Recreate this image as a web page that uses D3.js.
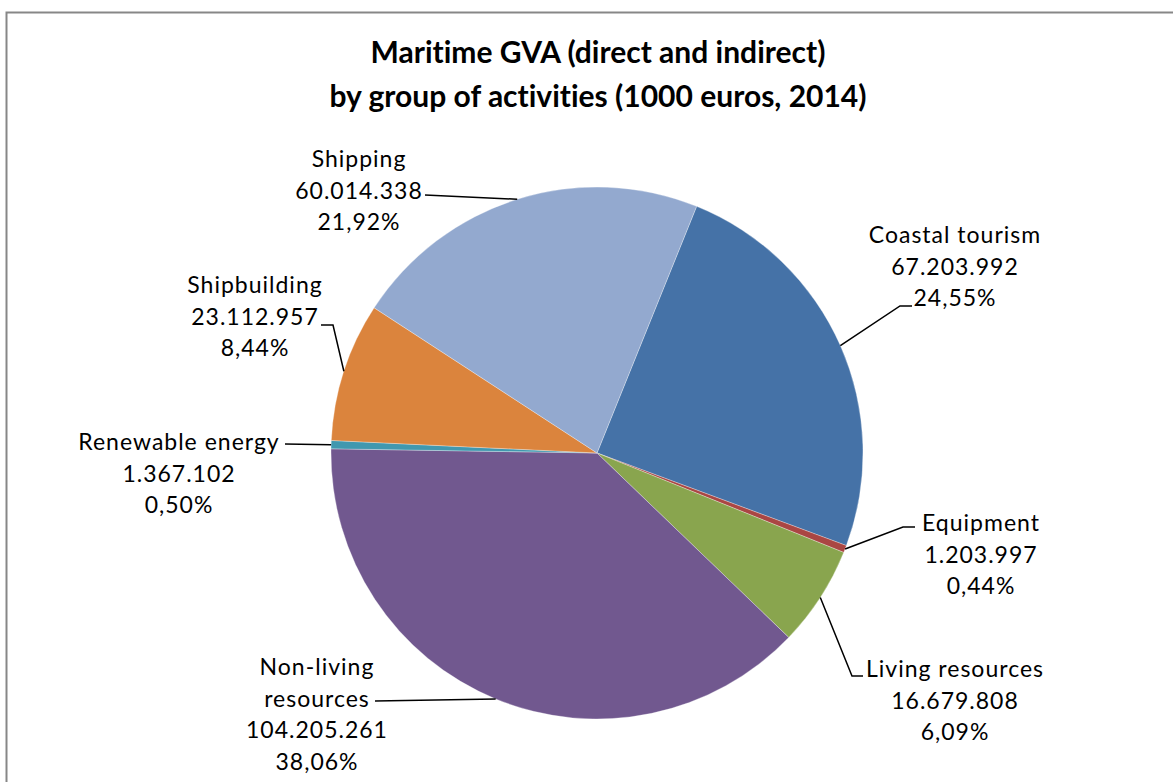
<!DOCTYPE html>
<html>
<head>
<meta charset="utf-8">
<script src="https://cdn.jsdelivr.net/npm/d3@7"></script>
<style>
  html, body { margin: 0; padding: 0; background: #fff; }
  svg { display: block; }
  text { font-family: Lato, "Open Sans", "Liberation Sans", sans-serif; fill: #000; font-variant-ligatures: none; }
</style>
</head>
<body>
<svg id="chart" width="1173" height="782"></svg>
<script>
// Maritime GVA by group of activities, thousand euros, 2014
const categories = [
  "Coastal tourism",
  "Equipment",
  "Living resources",
  "Non-living resources",
  "Renewable energy",
  "Shipbuilding",
  "Shipping"
];
const values = [67203992, 1203997, 16679808, 104205261, 1367102, 23112957, 60014338];
const colors = ["#4572A7", "#AA4643", "#89A54E", "#71588F", "#4198AF", "#DB843D", "#93A9CF"];
const titleLines = ["Maritime GVA (direct and indirect)", "by group of activities (1000 euros, 2014)"];

// Label text lines per slice (name may wrap)
const nameLines = [
  ["Coastal tourism"],
  ["Equipment"],
  ["Living resources"],
  ["Non-living", "resources"],
  ["Renewable energy"],
  ["Shipbuilding"],
  ["Shipping"]
];

// Layout: label block centre x, first baseline y, and the leader's start/elbow points
const labelLayout = [
  { x: 955, y: 243, leader: [[912, 306], [900, 306]] },
  { x: 981, y: 531, leader: [[915, 527], [903, 527]] },
  { x: 955, y: 677, leader: [[863, 676], [852, 676]] },
  { x: 317, y: 675, leader: [[375, 701]] },
  { x: 179, y: 450, leader: [[285, 444]] },
  { x: 255, y: 293, leader: [[321, 325], [333, 325]] },
  { x: 359, y: 167, leader: [[425, 195]] }
];

const W = 1173, H = 782;
const cx = 597, cy = 453, R = 266;
const lineGap = 31.5;

const svg = d3.select("#chart");

// Outer chart frame
svg.append("rect")
  .attr("x", 6.5).attr("y", 12.5)
  .attr("width", W + 20).attr("height", H + 20)
  .attr("fill", "#fff")
  .attr("stroke", "#878787").attr("stroke-width", 2);

// Title
svg.append("g").selectAll("text")
  .data(titleLines)
  .join("text")
  .attr("x", 598)
  .attr("y", (d, i) => 63 + i * 44)
  .attr("text-anchor", "middle")
  .attr("font-size", 30)
  .attr("font-weight", "bold")
  .text(d => d);

const locale = d3.formatLocale({ decimal: ",", thousands: ".", grouping: [3], currency: ["", "€"] });
const fmtValue = locale.format(",d");
const fmtPct = locale.format(".2%");

const total = d3.sum(values);
const data = categories.map((c, i) => ({ name: c, value: values[i], color: colors[i], i }));

const startOffset = 22 * Math.PI / 180;
const pie = d3.pie()
  .value(d => d.value)
  .sort(null)
  .startAngle(startOffset)
  .endAngle(startOffset + 2 * Math.PI);

const arcs = pie(data);
const arc = d3.arc().innerRadius(0).outerRadius(R);

const g = svg.append("g").attr("transform", `translate(${cx},${cy})`);

g.selectAll("path")
  .data(arcs)
  .join("path")
  .attr("d", arc)
  .attr("fill", d => d.data.color)
  .attr("stroke", "#ffffff")
  .attr("stroke-opacity", 0.5)
  .attr("stroke-width", 0.6);

// Leader lines from label to the slice's mid-angle on the rim
const rimPoint = a => {
  const m = (a.startAngle + a.endAngle) / 2;
  return [cx + R * Math.sin(m), cy - R * Math.cos(m)];
};

svg.append("g").selectAll("path")
  .data(arcs)
  .join("path")
  .attr("fill", "none")
  .attr("stroke", "#000")
  .attr("stroke-width", 1.5)
  .attr("d", a => d3.line()([...labelLayout[a.index].leader, rimPoint(a)]));

// Data labels: name, value, percentage
const labels = svg.append("g").selectAll("text")
  .data(arcs)
  .join("text")
  .attr("text-anchor", "middle")
  .attr("font-size", 23)
  .attr("letter-spacing", 1);

labels.each(function (a) {
  const lay = labelLayout[a.index];
  const lines = [...nameLines[a.index], fmtValue(a.data.value), fmtPct(a.data.value / total)];
  d3.select(this).selectAll("tspan")
    .data(lines)
    .join("tspan")
    .attr("x", lay.x)
    .attr("y", (d, k) => lay.y + k * lineGap)
    .text(d => d);
});
</script>
</body>
</html>
